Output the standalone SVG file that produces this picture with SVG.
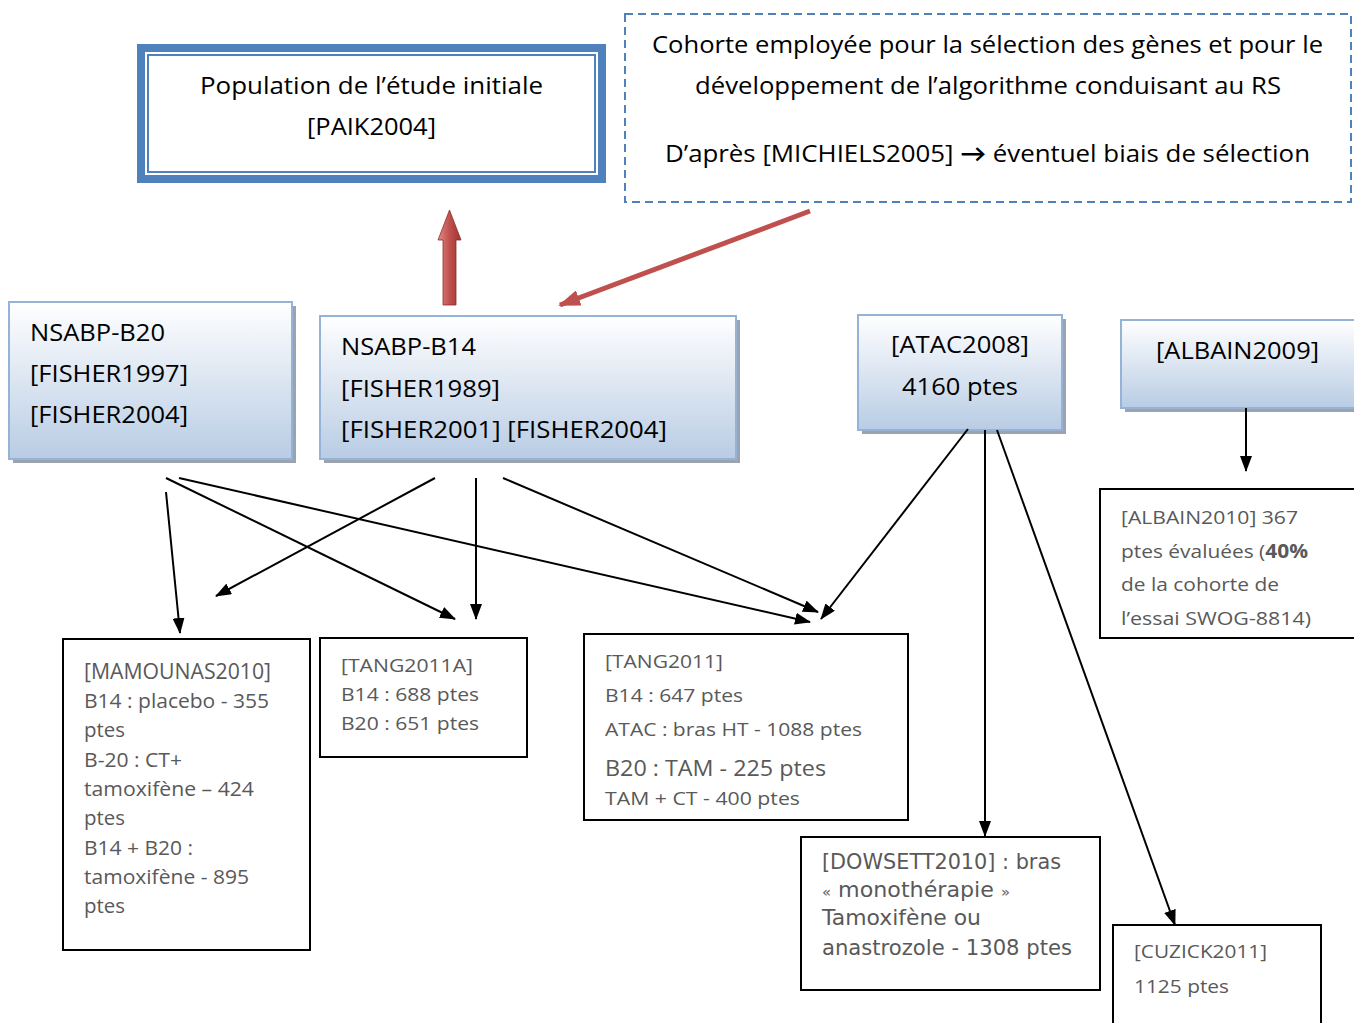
<svg xmlns="http://www.w3.org/2000/svg" width="1354" height="1023" viewBox="0 0 1354 1023">
<style>
.t{font-family:"Open Sans",Lato,"Liberation Sans",sans-serif;fill:#000}
.g{font-family:"Open Sans",Lato,"Liberation Sans",sans-serif;fill:#595959}
.d{font-family:"DejaVu Sans","Liberation Sans",sans-serif;fill:#595959}
.bx{fill:url(#grad);stroke:#95b3d7;stroke-width:2}
.sh{fill:#9aa3ae}
.wb{fill:#fff;stroke:#000;stroke-width:2}
.cn{stroke:#000;stroke-width:2;fill:none;marker-end:url(#ah)}
</style>
<defs>
<linearGradient id="grad" x1="0" y1="0" x2="0" y2="1">
<stop offset="0" stop-color="#ffffff"/>
<stop offset="1" stop-color="#b8cce4"/>
</linearGradient>
<linearGradient id="redg" x1="0" y1="0" x2="1" y2="0">
<stop offset="0" stop-color="#e08a88"/>
<stop offset="0.5" stop-color="#c0504d"/>
<stop offset="1" stop-color="#9c3431"/>
</linearGradient>
<marker id="ah" viewBox="0 0 16 12" refX="15" refY="6" markerWidth="16" markerHeight="12" markerUnits="userSpaceOnUse" orient="auto">
<path d="M0,0 L16,6 L0,12 Z" fill="#000"/>
</marker>
<marker id="rh" viewBox="0 0 22 16" refX="20" refY="8" markerWidth="22" markerHeight="16" markerUnits="userSpaceOnUse" orient="auto">
<path d="M0,0 L22,8 L0,16 Z" fill="#c0504d"/>
</marker>
</defs>
<rect width="1354" height="1023" fill="#fff"/>

<g id="node-paik">
<rect x="141" y="48" width="461" height="131" fill="#fff" stroke="#4f81bd" stroke-width="8"/>
<rect x="148" y="55" width="447" height="117" fill="none" stroke="#4f81bd" stroke-width="2"/>
<text class="t" font-size="24" x="200" y="94" textLength="343" lengthAdjust="spacingAndGlyphs">Population de l’étude initiale</text>
<text class="t" font-size="24" x="307" y="135" textLength="129" lengthAdjust="spacingAndGlyphs">[PAIK2004]</text>
</g>

<g id="node-cohorte">
<rect x="625" y="14" width="726" height="188" fill="#fff" stroke="#4f81bd" stroke-width="2" stroke-dasharray="8 5"/>
<text class="t" font-size="24" x="652" y="53" textLength="671" lengthAdjust="spacingAndGlyphs">Cohorte employée pour la sélection des gènes et pour le</text>
<text class="t" font-size="24" x="695" y="94" textLength="586" lengthAdjust="spacingAndGlyphs">développement de l’algorithme conduisant au RS</text>
<text class="t" font-size="24" x="665" y="162" textLength="645" lengthAdjust="spacingAndGlyphs">D’après [MICHIELS2005] <tspan font-weight="bold">→</tspan> éventuel biais de sélection</text>
</g>

<g id="node-b20">
<rect class="sh" x="13" y="306" width="283" height="157"/>
<rect class="bx" x="9" y="302" width="283" height="157"/>
<text class="t" font-size="24" x="30" y="341" textLength="135" lengthAdjust="spacingAndGlyphs">NSABP-B20</text>
<text class="t" font-size="24" x="30" y="382" textLength="158" lengthAdjust="spacingAndGlyphs">[FISHER1997]</text>
<text class="t" font-size="24" x="30" y="423" textLength="158" lengthAdjust="spacingAndGlyphs">[FISHER2004]</text>
</g>

<g id="node-b14">
<rect class="sh" x="324" y="320" width="416" height="143"/>
<rect class="bx" x="320" y="316" width="416" height="143"/>
<text class="t" font-size="24" x="341" y="355" textLength="135" lengthAdjust="spacingAndGlyphs">NSABP-B14</text>
<text class="t" font-size="24" x="341" y="397" textLength="159" lengthAdjust="spacingAndGlyphs">[FISHER1989]</text>
<text class="t" font-size="24" x="341" y="438" textLength="326" lengthAdjust="spacingAndGlyphs">[FISHER2001] [FISHER2004]</text>
</g>

<g id="node-atac">
<rect class="sh" x="862" y="319" width="204" height="115"/>
<rect class="bx" x="858" y="315" width="204" height="115"/>
<text class="t" font-size="24" x="891" y="353" textLength="138" lengthAdjust="spacingAndGlyphs">[ATAC2008]</text>
<text class="t" font-size="24" x="902" y="395" textLength="116" lengthAdjust="spacingAndGlyphs">4160 ptes</text>
</g>

<g id="node-albain2009">
<rect class="sh" x="1125" y="324" width="240" height="88"/>
<rect class="bx" x="1121" y="320" width="240" height="88"/>
<text class="t" font-size="24" x="1156" y="359" textLength="163" lengthAdjust="spacingAndGlyphs">[ALBAIN2009]</text>
</g>

<g id="node-mamounas">
<rect class="wb" x="63" y="639" width="247" height="311"/>
<text class="g" font-size="22" x="84" y="679" textLength="187" lengthAdjust="spacingAndGlyphs">[MAMOUNAS2010]</text>
<text class="g" font-size="20" x="84" y="708" textLength="185" lengthAdjust="spacingAndGlyphs">B14 : placebo - 355</text>
<text class="g" font-size="20" x="84" y="737" textLength="41" lengthAdjust="spacingAndGlyphs">ptes</text>
<text class="g" font-size="20" x="84" y="767" textLength="98" lengthAdjust="spacingAndGlyphs">B-20 : CT+</text>
<text class="g" font-size="20" x="84" y="796" textLength="170" lengthAdjust="spacingAndGlyphs">tamoxifène – 424</text>
<text class="g" font-size="20" x="84" y="825" textLength="41" lengthAdjust="spacingAndGlyphs">ptes</text>
<text class="g" font-size="20" x="84" y="855" textLength="109" lengthAdjust="spacingAndGlyphs">B14 + B20 :</text>
<text class="g" font-size="20" x="84" y="884" textLength="165" lengthAdjust="spacingAndGlyphs">tamoxifène - 895</text>
<text class="g" font-size="20" x="84" y="913" textLength="41" lengthAdjust="spacingAndGlyphs">ptes</text>
</g>

<g id="node-tang2011a">
<rect class="wb" x="320" y="638" width="207" height="119"/>
<text class="g" font-size="19" x="341" y="672" textLength="132" lengthAdjust="spacingAndGlyphs">[TANG2011A]</text>
<text class="g" font-size="19" x="341" y="701" textLength="138" lengthAdjust="spacingAndGlyphs">B14 : 688 ptes</text>
<text class="g" font-size="19" x="341" y="730" textLength="138" lengthAdjust="spacingAndGlyphs">B20 : 651 ptes</text>
</g>

<g id="node-tang2011">
<rect class="wb" x="584" y="634" width="324" height="186"/>
<text class="g" font-size="19" x="605" y="668" textLength="118" lengthAdjust="spacingAndGlyphs">[TANG2011]</text>
<text class="g" font-size="19" x="605" y="702" textLength="138" lengthAdjust="spacingAndGlyphs">B14 : 647 ptes</text>
<text class="g" font-size="19" x="605" y="736" textLength="257" lengthAdjust="spacingAndGlyphs">ATAC : bras HT - 1088 ptes</text>
<text class="g" font-size="22" x="605" y="776" textLength="221" lengthAdjust="spacingAndGlyphs">B20 : TAM - 225 ptes</text>
<text class="g" font-size="19" x="605" y="805" textLength="195" lengthAdjust="spacingAndGlyphs">TAM + CT - 400 ptes</text>
</g>

<g id="node-dowsett">
<rect class="wb" x="801" y="837" width="299" height="153"/>
<text class="d" font-size="21" x="822" y="869" textLength="239" lengthAdjust="spacingAndGlyphs">[DOWSETT2010] : bras</text>
<text class="d" font-size="21" x="822" y="897" textLength="188" lengthAdjust="spacingAndGlyphs"><tspan font-size="14">«</tspan> monothérapie <tspan font-size="14">»</tspan></text>
<text class="d" font-size="21" x="822" y="925" textLength="159" lengthAdjust="spacingAndGlyphs">Tamoxifène ou</text>
<text class="d" font-size="21" x="822" y="955" textLength="250" lengthAdjust="spacingAndGlyphs">anastrozole - 1308 ptes</text>
</g>

<g id="node-cuzick">
<rect class="wb" x="1113" y="925" width="208" height="110"/>
<text class="g" font-size="19" x="1134" y="958" textLength="133" lengthAdjust="spacingAndGlyphs">[CUZICK2011]</text>
<text class="g" font-size="19" x="1134" y="993" textLength="95" lengthAdjust="spacingAndGlyphs">1125 ptes</text>
</g>

<g id="node-albain2010">
<rect class="wb" x="1100" y="489" width="270" height="149"/>
<text class="g" font-size="19" x="1121" y="524" textLength="177" lengthAdjust="spacingAndGlyphs">[ALBAIN2010] 367</text>
<text class="g" font-size="19" x="1121" y="558" textLength="187" lengthAdjust="spacingAndGlyphs">ptes évaluées (<tspan font-weight="bold">40%</tspan></text>
<text class="g" font-size="19" x="1121" y="591" textLength="158" lengthAdjust="spacingAndGlyphs">de la cohorte de</text>
<text class="g" font-size="19" x="1121" y="625" textLength="190" lengthAdjust="spacingAndGlyphs">l’essai SWOG-8814)</text>
</g>

<g id="connectors">
<path d="M443,305 L443,240 L438,240 L449.5,210 L461,240 L456,240 L456,305 Z" fill="url(#redg)" stroke="#8c2f2c" stroke-width="0.8"/>
<line x1="810" y1="211" x2="560" y2="305" stroke="#c0504d" stroke-width="5" marker-end="url(#rh)"/>
<line class="cn" x1="166" y1="492" x2="180" y2="633"/>
<line class="cn" x1="166" y1="478" x2="455" y2="619"/>
<line class="cn" x1="179" y1="478" x2="810" y2="622"/>
<line class="cn" x1="435" y1="478" x2="216" y2="596"/>
<line class="cn" x1="476" y1="478" x2="476" y2="619"/>
<line class="cn" x1="503" y1="478" x2="818" y2="612"/>
<line class="cn" x1="968" y1="429" x2="821" y2="619"/>
<line class="cn" x1="985" y1="430" x2="985" y2="836"/>
<line class="cn" x1="997" y1="430" x2="1175" y2="925"/>
<line class="cn" x1="1246" y1="408" x2="1246" y2="471"/>
</g>
</svg>
